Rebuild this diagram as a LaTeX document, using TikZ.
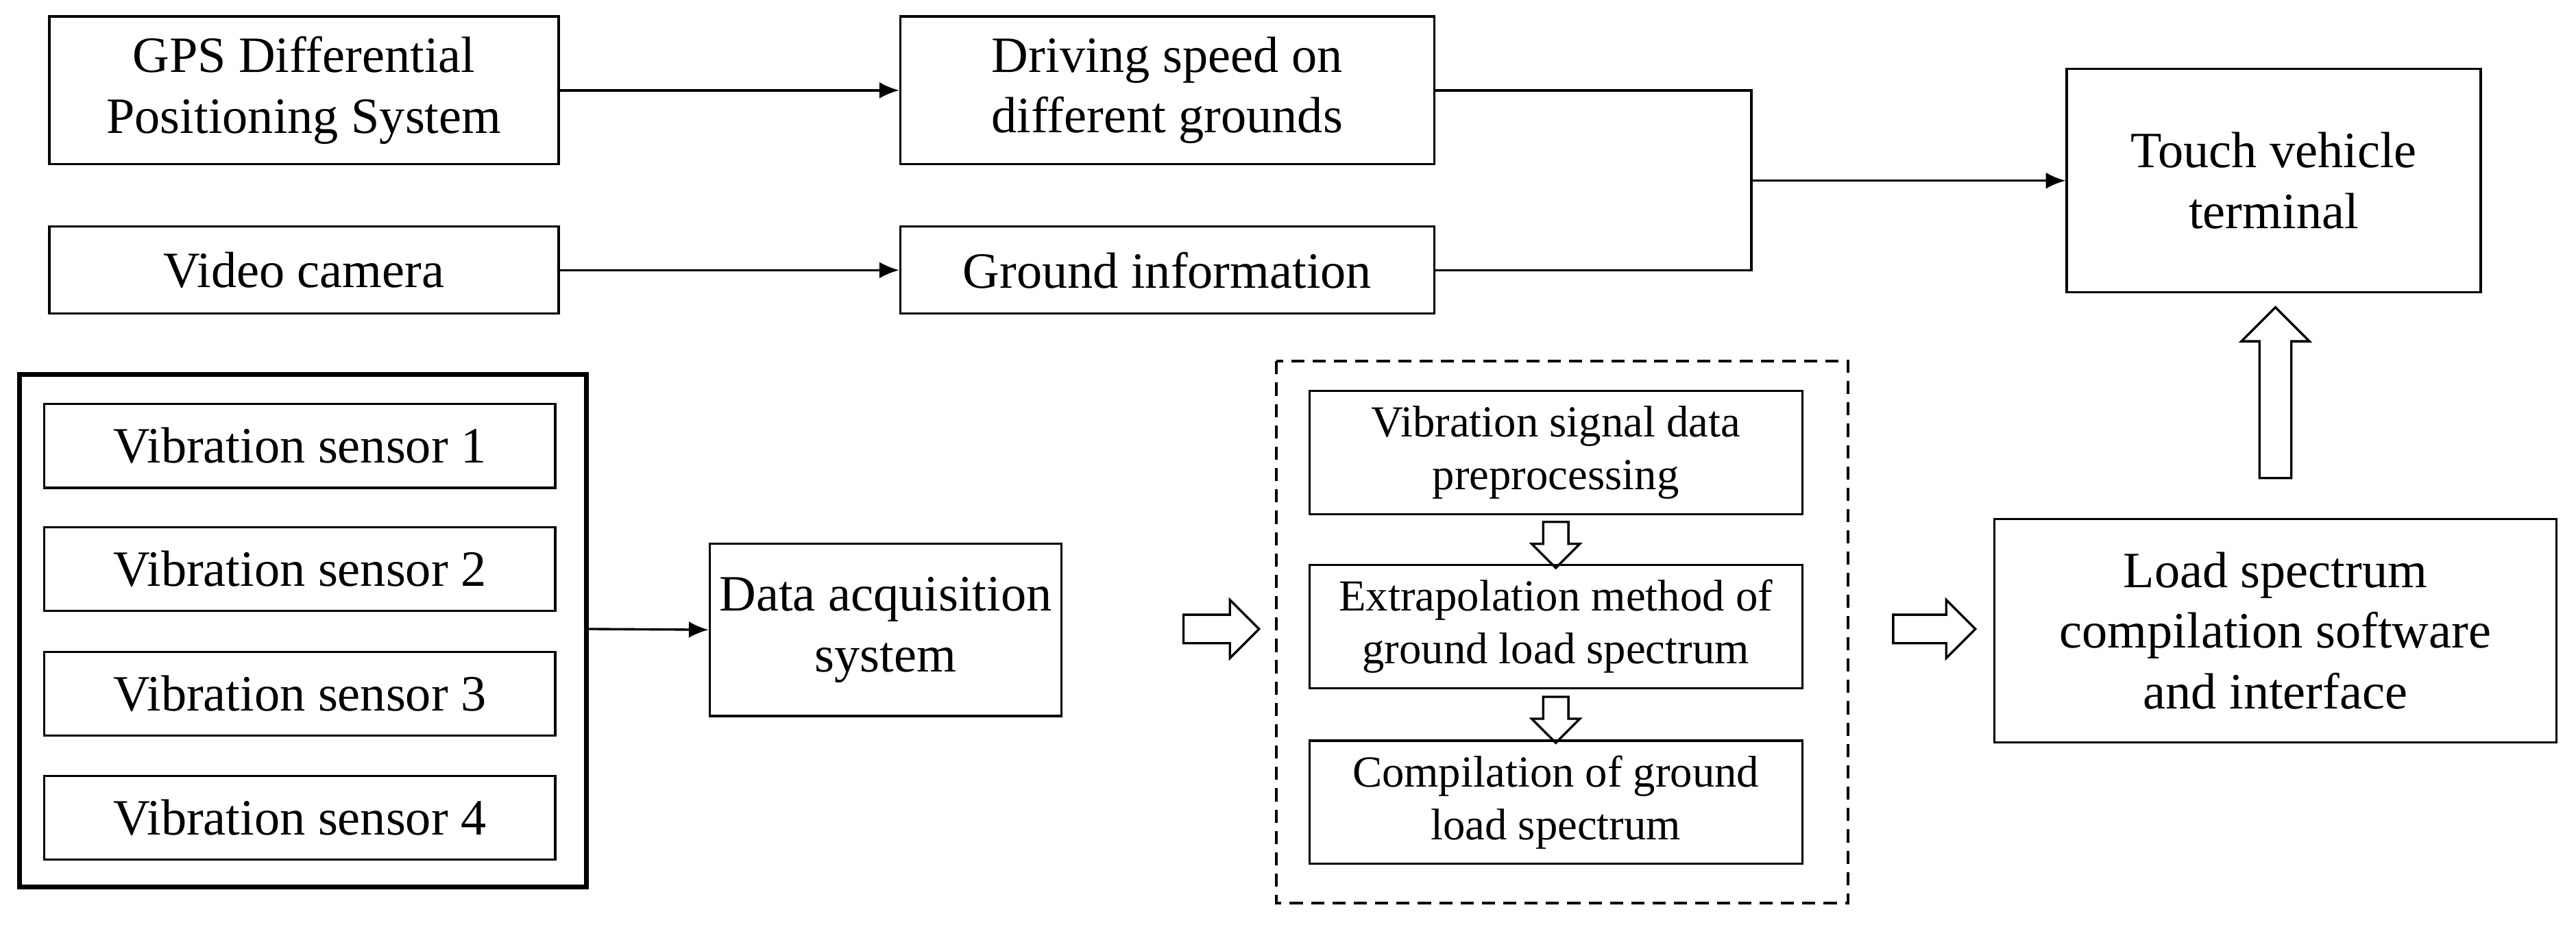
\documentclass[tikz,border=0pt]{standalone}
\usepackage{fontspec}
\setmainfont{Liberation Serif}
\usetikzlibrary{shapes.arrows,arrows.meta}
\begin{document}
\begin{tikzpicture}[x=0.5pt,y=-0.5pt,
 bx/.style={draw,line width=0.7pt,align=center,font=\fontsize{15.5}{18.5}\selectfont,inner sep=0pt},
 sb/.style={draw,line width=0.7pt,align=center,font=\fontsize{13.5}{16}\selectfont,inner sep=0pt},
 ar/.style={-{Latex[length=6pt,width=5pt]},line width=0.7pt},
 ha/.style={draw,single arrow,line width=0.7pt,inner sep=0pt,minimum width=0pt}]
\useasboundingbox (0,0) rectangle (1568,563);
\newcommand{\bxat}[6]{\node[#1,minimum width=#4*0.5pt,minimum height=#5*0.5pt] (#2) at (#3) {#6};}
\bxat{bx}{gps}{185,55}{310}{90}{GPS Differential\\Positioning System}
\bxat{bx}{drv}{710.5,55}{325}{90}{Driving speed on\\different grounds}
\bxat{bx}{cam}{185,164.5}{310}{53}{Video camera}
\bxat{bx}{gnd}{710.5,164.5}{325}{53}{Ground information}
\bxat{bx}{tvt}{1384,110}{252}{136}{Touch vehicle\\terminal}
\draw[line width=1.4pt] (12,228) rectangle (357,540);
\coordinate (sens) at (357,383);
\bxat{bx}{s1}{182.5,271.5}{311}{51}{Vibration sensor 1}
\bxat{bx}{s2}{182.5,346.5}{311}{51}{Vibration sensor 2}
\bxat{bx}{s3}{182.5,422.5}{311}{51}{Vibration sensor 3}
\bxat{bx}{s4}{182.5,498}{311}{51}{Vibration sensor 4}
\bxat{bx}{das}{539,383.5}{214}{105}{Data acquisition\\system}
\draw[line width=0.8pt,dash pattern=on 4pt off 2.5pt] (777,220) rectangle (1125,550);
\bxat{sb}{p1}{947,275.5}{300}{75}{Vibration signal data\\preprocessing}
\bxat{sb}{p2}{947,381.5}{300}{75}{Extrapolation method of\\ground load spectrum}
\bxat{sb}{p3}{947,488.5}{300}{75}{Compilation of ground\\load spectrum}
\bxat{bx}{lsc}{1385,384}{342}{136}{Load spectrum\\compilation software\\and interface}
\draw[ar] (gps.east) -- (drv.west);
\draw[ar] (cam.east) -- (gnd.west);
\coordinate (j) at (1066,110);
\draw[line width=0.7pt] (drv.east) -| (j) |- (gnd.east);
\draw[ar] (j) -- (tvt.west);
\draw[ar] (sens) -- (das.west);
\node[ha,minimum height=23pt,single arrow head extend=4.5pt] (h1) at (739,383) {\rule{0pt}{8pt}};
\node[ha,minimum height=25pt,single arrow head extend=4.5pt] (h2) at (1173,383) {\rule{0pt}{8pt}};
\node[ha,minimum height=52pt,single arrow head extend=5.5pt,shape border rotate=90] (h3) at (1385,244) {\rule{9pt}{0pt}};
\node[ha,minimum height=14pt,single arrow head extend=3.5pt,shape border rotate=270] (d1) at (947,328) {\rule{7pt}{0pt}};
\node[ha,minimum height=14pt,single arrow head extend=3.5pt,shape border rotate=270] (d2) at (947,434.5) {\rule{7pt}{0pt}};
\end{tikzpicture}
\end{document}
